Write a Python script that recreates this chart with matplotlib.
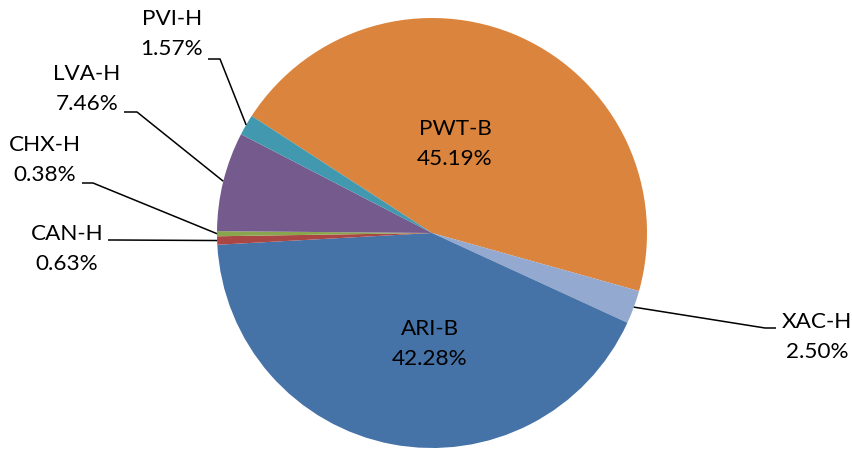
import matplotlib
matplotlib.use("Agg")
import matplotlib.pyplot as plt
import numpy as np

labels = ["PWT-B", "XAC-H", "ARI-B", "CAN-H", "CHX-H", "LVA-H", "PVI-H"]
values = [45.19, 2.50, 42.28, 0.63, 0.38, 7.46, 1.57]
colors = ["#DB843D", "#93A9CF", "#4572A7", "#AA4643", "#89A54E", "#745A8D", "#4198AF"]

W, H = 853, 450
fig = plt.figure(figsize=(W / 100, H / 100), dpi=100)
ax = fig.add_axes([0, 0, 1, 1])

cx, cy, R = 432, 233, 215  # pixel coords (y from top)

def Y(y):
    return H - y

wedges, _ = ax.pie(values, colors=colors, startangle=147, counterclock=False,
                   radius=R, center=(cx, Y(cy)), frame=True,
                   wedgeprops=dict(linewidth=0))

ax.set_xlim(0, W)
ax.set_ylim(0, H)
ax.set_aspect("auto")
ax.axis("off")

font = dict(family=["Lato", "DejaVu Sans"], fontsize=16.2, color="#000000")
LS = 1.62

# inside labels
inside = {"PWT-B": (455, 144), "ARI-B": (430, 344)}
# outside labels: text center, elbow point (pixel coords)
outside = {
    "XAC-H": ((817, 337), [(776, 328), (765, 328)]),
    "PVI-H": ((172, 34), [(208, 59), (220, 59)]),
    "LVA-H": ((87, 89), [(124, 112), (137, 112)]),
    "CHX-H": ((45, 160), [(82, 183), (93, 183)]),
    "CAN-H": ((67, 249), [(108, 240), (115, 240)]),
}

for w, lab, v in zip(wedges, labels, values):
    txt = f"{lab}\n{v:.2f}%"
    if lab in inside:
        x, y = inside[lab]
        ax.text(x, Y(y), txt, ha="center", va="center", linespacing=LS, **font)
    else:
        (x, y), elbow = outside[lab]
        ax.text(x, Y(y), txt, ha="center", va="center", linespacing=LS, **font)
        mid = np.deg2rad((w.theta1 + w.theta2) / 2)
        ex = cx + R * np.cos(mid)
        ey = Y(cy) + R * np.sin(mid)
        xs = [p[0] for p in elbow] + [ex]
        ys = [Y(p[1]) for p in elbow] + [ey]
        ax.plot(xs, ys, color="black", lw=1.1, solid_capstyle="butt")

fig.savefig("out.png", dpi=100)
